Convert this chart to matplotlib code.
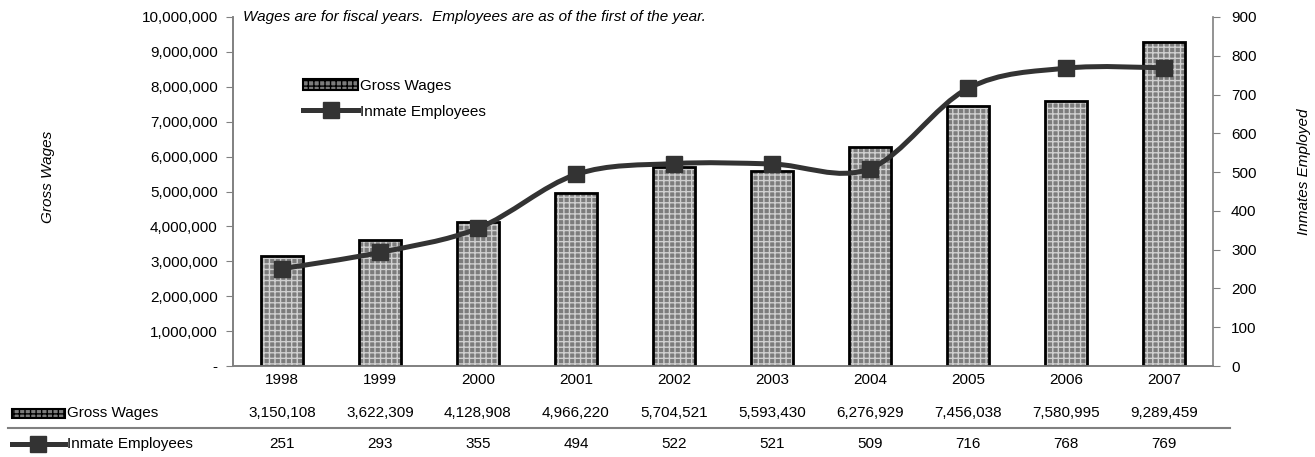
import numpy as np
import matplotlib
matplotlib.use("Agg")
from matplotlib import pyplot as plt
from matplotlib.path import Path
from matplotlib.patches import PathPatch, Rectangle
from matplotlib.lines import Line2D
from matplotlib.ticker import FuncFormatter, MultipleLocator
import matplotlib.transforms as mtransforms

plt.rcParams['font.family'] = ['Liberation Sans', 'DejaVu Sans']
plt.rcParams['hatch.linewidth'] = 1.0

years = ['1998', '1999', '2000', '2001', '2002', '2003', '2004', '2005', '2006', '2007']
gross_wages = [3150108, 3622309, 4128908, 4966220, 5704521, 5593430, 6276929, 7456038, 7580995, 9289459]
inmate_employees = [251, 293, 355, 494, 522, 521, 509, 716, 768, 769]

note = "Wages are for fiscal years.  Employees are as of the first of the year."

line_col = '#333333'
spine_col = '#808080'
bar_col = '#7c7c7c'
hatch_col = '#cfcfcf'
fs = 11

fig = plt.figure(figsize=(13.15, 4.57), dpi=100)
ax = fig.add_axes([233/1315, 1-366/457, (1213-233)/1315, (366-17)/457])
ax2 = ax.twinx()

x = np.arange(len(years))

# bars: patterned fill, then black outline
ax.bar(x, gross_wages, width=0.43, color=bar_col, edgecolor=hatch_col, hatch='+++', linewidth=0, zorder=2)
ax.bar(x, gross_wages, width=0.43, fill=False, edgecolor='black', linewidth=2.0, zorder=3)

ax.set_xlim(-0.5, len(years) - 0.5)
ax.set_ylim(0, 10000000)
ax.yaxis.set_major_locator(MultipleLocator(1000000))
ax.yaxis.set_major_formatter(FuncFormatter(lambda v, p: '-' if v == 0 else f'{int(v):,}'))
ax.set_xticks(x)
ax.set_xticklabels(years)
ax.tick_params(axis='x', length=0, labelsize=fs, pad=5)
ax.tick_params(axis='y', length=5, color=spine_col, labelsize=fs, pad=6)
ax.set_ylabel('Gross Wages', fontsize=fs, style='italic')
ax.yaxis.set_label_coords((55-233)/980, (366-177)/349)

# smoothed employee line (Bezier through the points)
y = np.array(inmate_employees, dtype=float)
verts = [(x[0], y[0])]
codes = [Path.MOVETO]
n = len(y)
for i in range(n - 1):
    p0 = (x[max(i-1, 0)], y[max(i-1, 0)])
    p1 = (x[i], y[i])
    p2 = (x[i+1], y[i+1])
    p3 = (x[min(i+2, n-1)], y[min(i+2, n-1)])
    c1 = (p1[0] + (p2[0]-p0[0])/6, p1[1] + (p2[1]-p0[1])/6)
    c2 = (p2[0] - (p3[0]-p1[0])/6, p2[1] - (p3[1]-p1[1])/6)
    verts += [c1, c2, p2]
    codes += [Path.CURVE4]*3
ax2.add_patch(PathPatch(Path(verts, codes), fill=False, edgecolor=line_col, linewidth=3.6, zorder=4))
ax2.plot(x, y, linestyle='none', marker='s', markersize=11, color=line_col, zorder=5)

ax2.set_ylim(0, 900)
ax2.yaxis.set_major_locator(MultipleLocator(100))
ax2.tick_params(axis='y', length=5, color=spine_col, labelsize=fs, pad=8)
ax2.set_ylabel('Inmates Employed', fontsize=fs, style='italic')
ax2.yaxis.set_label_coords((1297-233)/980, (366-172)/349)

for a in (ax, ax2):
    a.spines['top'].set_visible(False)
    for s in ('left', 'right', 'bottom'):
        a.spines[s].set_color(spine_col)
        a.spines[s].set_linewidth(1.2)
ax.set_zorder(1)
ax2.set_zorder(2)
ax2.patch.set_visible(False)
ax.spines['right'].set_visible(False)

fig.text(243/1315, 1-17/457, note, fontsize=fs, style='italic', va='center', ha='left')

# legend
leg_handles = [Rectangle((0, 0), 1, 1, facecolor=bar_col, edgecolor='black', hatch='+++', linewidth=1.5),
               Line2D([0], [0], color=line_col, linewidth=3.6, marker='s', markersize=11)]
leg = ax2.legend(leg_handles, ['Gross Wages', 'Inmate Employees'], loc='upper left',
                 bbox_to_anchor=(64/980, 1-56/349), frameon=False, fontsize=fs,
                 handlelength=3.6, handletextpad=0.15, labelspacing=0.75, borderaxespad=0)

# data table below the chart
tr = mtransforms.blended_transform_factory(ax.transData, fig.transFigure)
row1_y = 1 - 413/457
row2_y = 1 - 444/457
for i in range(len(years)):
    ax.text(x[i], row1_y, f'{gross_wages[i]:,}', transform=tr, ha='center', va='center', fontsize=fs)
    ax.text(x[i], row2_y, f'{inmate_employees[i]}', transform=tr, ha='center', va='center', fontsize=fs)

fig.patches.append(Rectangle((12/1315, 1-418/457), 53/1315, 9/457, transform=fig.transFigure,
                             facecolor=bar_col, edgecolor='black', hatch='+++', linewidth=1.5))
fig.text(67/1315, row1_y, 'Gross Wages', fontsize=fs, va='center', ha='left')
fig.lines.append(Line2D([12/1315, 65/1315], [row2_y, row2_y], transform=fig.transFigure,
                        color=line_col, linewidth=3.6))
fig.lines.append(Line2D([38/1315], [row2_y], transform=fig.transFigure, color=line_col,
                        marker='s', markersize=11, linestyle='none'))
fig.text(67/1315, row2_y, 'Inmate Employees', fontsize=fs, va='center', ha='left')
fig.lines.append(Line2D([8/1315, 1230/1315], [1-428/457, 1-428/457], transform=fig.transFigure,
                        color=spine_col, linewidth=1.5))

fig.savefig('out.png', dpi=100)
